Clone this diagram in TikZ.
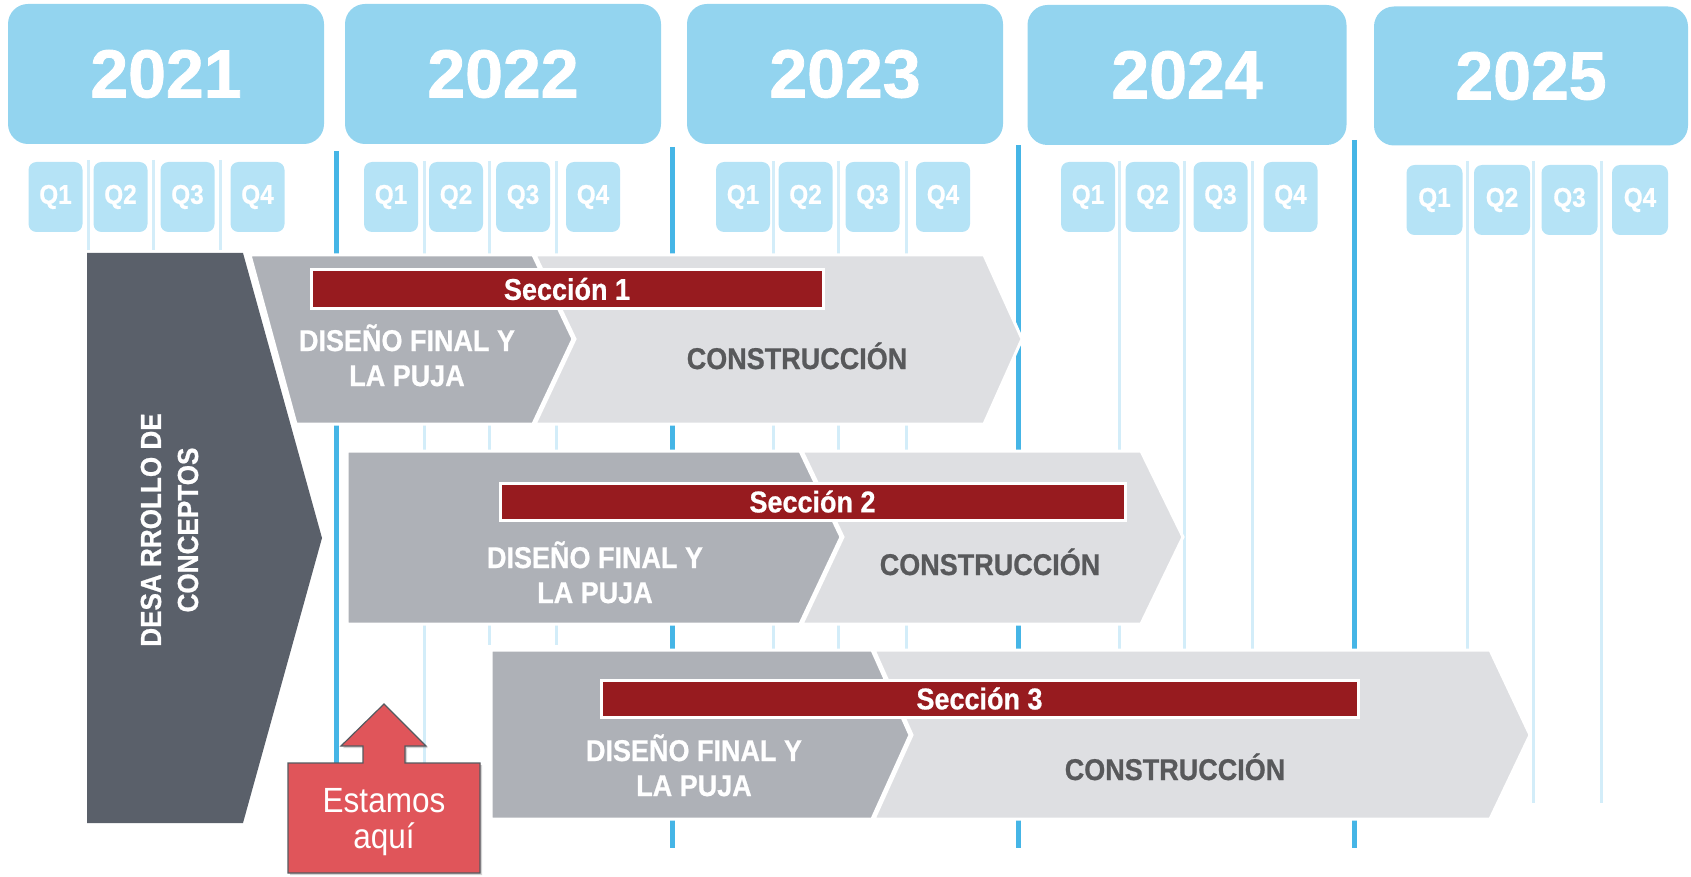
\documentclass[tikz,border=0pt]{standalone}
\usepackage{fontspec}
\setmainfont{Liberation Sans}[FakeStretch=0.9, BoldFeatures={FakeBold=0.7}]
\newfontfamily\yearfont{Liberation Sans}[BoldFeatures={FakeBold=1.2}]
\usetikzlibrary{shadows}
\definecolor{yearblue}{HTML}{93D4EF}
\definecolor{qblue}{HTML}{B5E3F6}
\definecolor{thickblue}{HTML}{45B5E6}
\definecolor{thinblue}{HTML}{D3EDF9}
\definecolor{darkpanel}{HTML}{5A606A}
\definecolor{midgray}{HTML}{AEB1B7}
\definecolor{lightgray}{HTML}{DEDFE2}
\definecolor{secred}{HTML}{971B1F}
\definecolor{txtgray}{HTML}{58595B}
\definecolor{herered}{HTML}{E0555A}
\definecolor{hereedge}{HTML}{555A60}
\begin{document}
\begin{tikzpicture}[x=1pt,y=-1pt,
  yearbox/.style={fill=yearblue, rounded corners=20pt, text=white,
    font=\yearfont\bfseries\fontsize{68}{72}\selectfont,
    minimum width=316pt, minimum height=140pt, inner sep=0pt},
  qbox/.style={fill=qblue, rounded corners=8pt, text=white,
    font=\bfseries\fontsize{27}{30}\selectfont,
    minimum width=54pt, minimum height=70pt, inner sep=0pt},
  thickline/.style={draw=thickblue, line width=5pt},
  thinline/.style={draw=thinblue, line width=3pt},
  chev/.style={draw=white, line width=3pt, line join=miter},
  secbar/.style={fill=secred, draw=white, line width=3pt, text=white,
    font=\bfseries\fontsize{30}{34}\selectfont, inner sep=0pt},
  phase/.style={text=white, font=\bfseries\fontsize{30}{35}\selectfont,
    align=center, anchor=base, inner sep=0pt},
  build/.style={text=txtgray, font=\bfseries\fontsize{30}{35}\selectfont,
    anchor=base, inner sep=0pt},
]
\useasboundingbox (0,0) rectangle (1691,877);

% vertical guide lines
\foreach \x/\t in {336/151,672/147,1018/145,1354/140}
  \draw[thickline] (\x,\t) -- (\x,848);
\foreach \x in {88,153,220}
  \draw[thinline] (\x,160) -- (\x,250);
\foreach \x in {489,556}
  \draw[thinline] (\x,161) -- (\x,645);
\foreach \x in {424,773,838,906,1119,1184,1252,1467,1533,1601}
  \draw[thinline] (\x,161) -- (\x,803);

% year headers
\node[yearbox] (y2021) at (166,74) {2021};
\node[yearbox] (y2022) at (503,74) {2022};
\node[yearbox] (y2023) at (845,74) {2023};
\node[yearbox, minimum width=319pt] (y2024) at (1187,75) {2024};
\node[yearbox, minimum width=314pt, minimum height=139pt] (y2025) at (1531,76) {2025};

% quarters
\foreach \n/\x in {1/55.5,2/120.5,3/187.5,4/257.5}
  \node[qbox] (qa\n) at (\x,197) {Q\n};
\foreach \n/\x in {1/391,2/456,3/523,4/593}
  \node[qbox] (qb\n) at (\x,197) {Q\n};
\foreach \n/\x in {1/743,2/805.5,3/872.5,4/943}
  \node[qbox] (qc\n) at (\x,197) {Q\n};
\foreach \n/\x in {1/1088,2/1152.5,3/1220.5,4/1290.5}
  \node[qbox] (qd\n) at (\x,197) {Q\n};
\foreach \n/\x in {1/1434.5,2/1502,3/1569.5,4/1640}
  \node[qbox, minimum width=56pt] (qe\n) at (\x,200) {Q\n};

% concept development panel
\path[fill=darkpanel] (87,253) -- (243,253) -- (322,538) -- (243,823) -- (87,823) -- cycle;
\node[rotate=90, text=white, align=center, inner sep=0pt,
      font=\bfseries\fontsize{29}{37}\selectfont] (concept) at (169.5,530)
      {DESA RROLLO DE\\CONCEPTOS};

% row 1
\path[fill=lightgray, chev] (535,255) -- (984,255) -- (1022,339) -- (984,424) -- (535,424) -- (575,339) -- cycle;
\path[fill=midgray, chev] (250,255) -- (533,255) -- (573,339) -- (533,424) -- (296,424) -- cycle;
\node[secbar, minimum width=512pt, minimum height=38pt] (sec1) at (567,289) {Sección 1};
\node[phase] (dis1) at (407,386) {DISEÑO FINAL Y\\LA PUJA};
\node[build] (con1) at (797,369) {CONSTRUCCIÓN};

% row 2
\path[fill=lightgray, chev] (802,451) -- (1141,451) -- (1183,537) -- (1141,624) -- (802,624) -- (843,537) -- cycle;
\path[fill=midgray, chev] (347,451) -- (800,451) -- (841,537) -- (800,624) -- (347,624) -- cycle;
\node[secbar, minimum width=625pt, minimum height=37pt] (sec2) at (812.5,501.5) {Sección 2};
\node[phase] (dis2) at (595,603) {DISEÑO FINAL Y\\LA PUJA};
\node[build] (con2) at (990,575) {CONSTRUCCIÓN};

% row 3
\path[fill=lightgray, chev] (874,650) -- (1490,650) -- (1530,735) -- (1490,819) -- (874,819) -- (912,735) -- cycle;
\path[fill=midgray, chev] (491,650) -- (872,650) -- (910,735) -- (872,819) -- (491,819) -- cycle;
\node[secbar, minimum width=757pt, minimum height=37pt] (sec3) at (979.5,698.5) {Sección 3};
\node[phase] (dis3) at (694,796) {DISEÑO FINAL Y\\LA PUJA};
\node[build] (con3) at (1175,780) {CONSTRUCCIÓN};

% "Estamos aqui" marker
\path[fill=herered, draw=hereedge, line width=1.2pt, line join=miter,
      drop shadow={shadow xshift=2pt, shadow yshift=-2pt, opacity=0.35}]
  (288,763) -- (363,763) -- (363,746) -- (341,746) -- (384,704) -- (426,746)
  -- (405,746) -- (405,763) -- (480,763) -- (480,873) -- (288,873) -- cycle;
\node[text=white, align=center, anchor=base, inner sep=0pt,
      font=\fontsize{35}{36}\selectfont] (here) at (384,848) {Estamos\\aquí};
\end{tikzpicture}
\end{document}
